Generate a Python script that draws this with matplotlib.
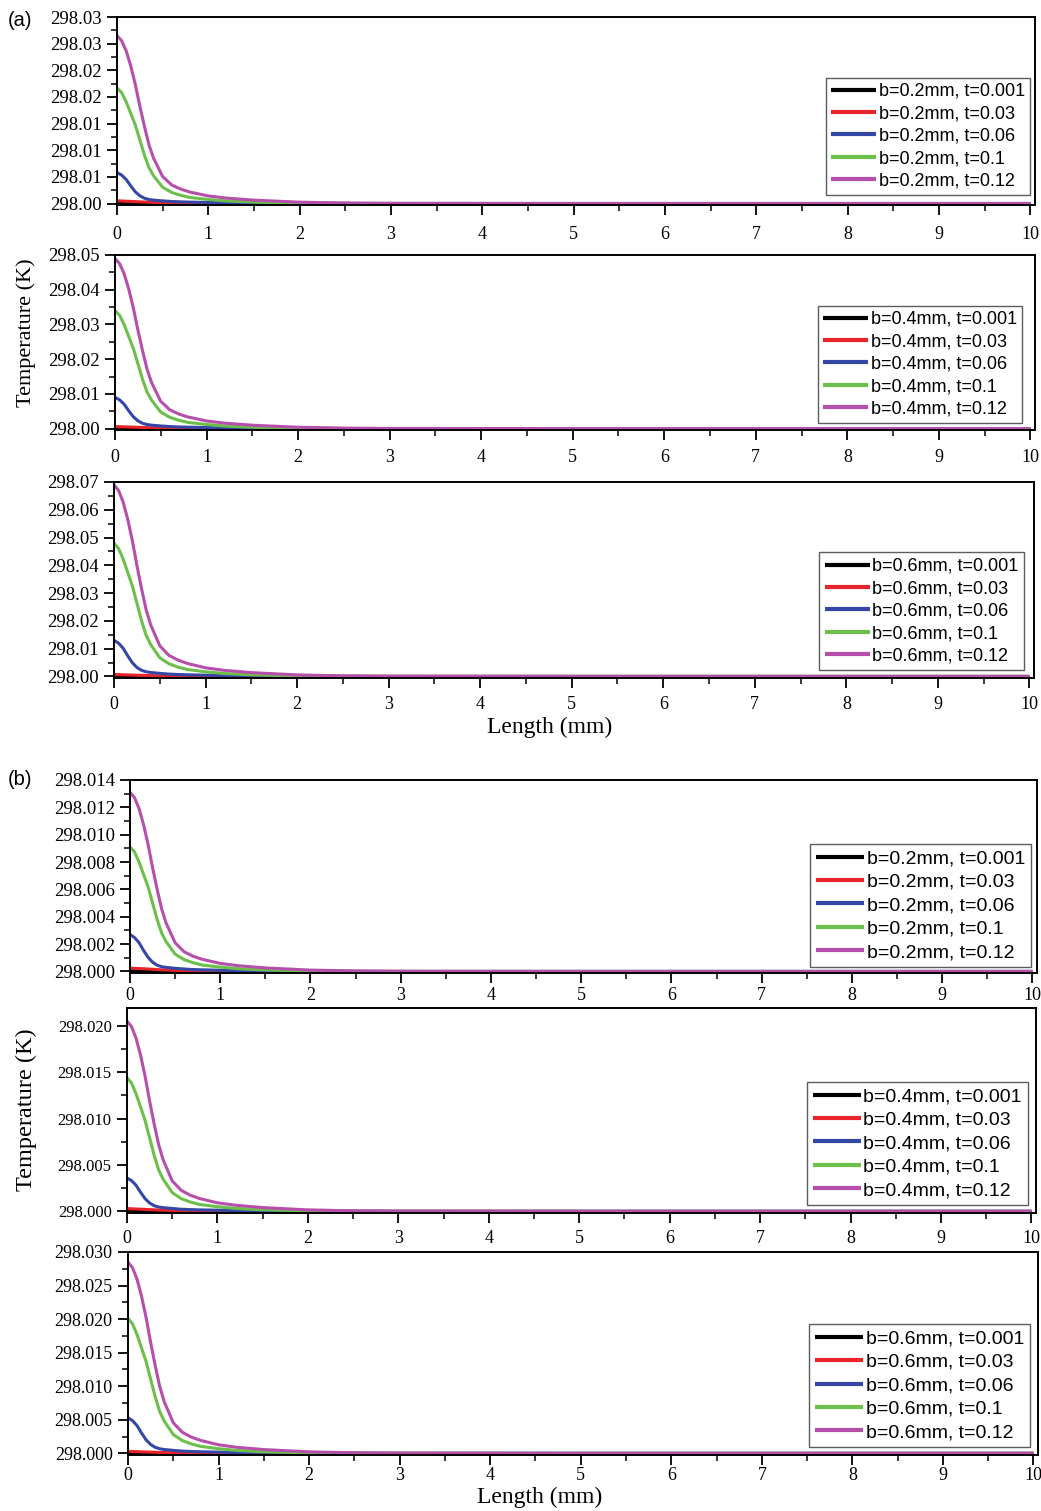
import matplotlib
matplotlib.use("Agg")
import matplotlib.pyplot as plt
from matplotlib.ticker import MultipleLocator, FixedLocator, FixedFormatter
import numpy as np

# length along the sample (mm)
length = [0, 0.05, 0.1, 0.15, 0.2, 0.25, 0.3, 0.35, 0.4, 0.5, 0.6, 0.7,
          0.8, 1.0, 1.2, 1.5, 2.0, 2.5, 3.0, 5.0, 10.0]

T0 = 298.0
times = ["0.001", "0.03", "0.06", "0.1", "0.12"]

# temperature rise above 298 K, one list per time step
t0001 = [0.00005, 0.00004, 0.00003, 0.00002, 0.00001, 0, 0, 0, 0, 0, 0, 0,
         0, 0, 0, 0, 0, 0, 0, 0, 0]

# (a) panel 1, b = 0.2 mm
a1_t003 = [0.00050, 0.00047, 0.00043, 0.00039, 0.00035, 0.00031, 0.00028, 0.00024, 0.00021, 0.00016, 0.00012,
           0.00009, 0.00007, 0.00004, 0.00002, 0.00001, 0, 0, 0, 0, 0]
a1_t006 = [0.00580, 0.00534, 0.00452, 0.00331, 0.00220, 0.00145, 0.00099, 0.00075, 0.00064, 0.00049, 0.00038,
           0.00031, 0.00026, 0.00020, 0.00013, 0.00007, 0.00002, 0.00001, 0, 0, 0]
a1_t01 = [0.02170, 0.02083, 0.01910, 0.01693, 0.01476, 0.01194, 0.00911, 0.00673, 0.00521, 0.00304, 0.00206,
          0.00152, 0.00113, 0.00076, 0.00048, 0.00026, 0.00009, 0.00002, 0, 0, 0]
a1_t012 = [0.03150, 0.03056, 0.02867, 0.02583, 0.02237, 0.01827, 0.01449, 0.01103, 0.00851, 0.00504, 0.00347,
           0.00268, 0.00214, 0.00142, 0.00101, 0.00063, 0.00025, 0.00009, 0.00003, 0, 0]

# (a) panel 2, b = 0.4 mm
a2_t003 = [0.00060, 0.00056, 0.00051, 0.00047, 0.00042, 0.00037, 0.00033, 0.00029, 0.00025, 0.00019, 0.00014,
           0.00011, 0.00008, 0.00004, 0.00002, 0.00001, 0, 0, 0, 0, 0]
a2_t006 = [0.00900, 0.00828, 0.00702, 0.00513, 0.00342, 0.00225, 0.00153, 0.00117, 0.00099, 0.00077, 0.00059,
           0.00048, 0.00041, 0.00032, 0.00020, 0.00011, 0.00004, 0.00001, 0, 0, 0]
a2_t01 = [0.03400, 0.03264, 0.02992, 0.02652, 0.02312, 0.01870, 0.01428, 0.01054, 0.00816, 0.00476, 0.00323,
          0.00238, 0.00177, 0.00119, 0.00075, 0.00041, 0.00014, 0.00003, 0, 0, 0]
a2_t012 = [0.04900, 0.04753, 0.04459, 0.04018, 0.03479, 0.02842, 0.02254, 0.01715, 0.01323, 0.00784, 0.00539,
           0.00417, 0.00333, 0.00221, 0.00157, 0.00098, 0.00039, 0.00015, 0.00005, 0, 0]

# (a) panel 3, b = 0.6 mm
a3_t003 = [0.00070, 0.00065, 0.00060, 0.00055, 0.00049, 0.00043, 0.00039, 0.00034, 0.00029, 0.00022, 0.00017,
           0.00013, 0.00009, 0.00005, 0.00003, 0.00001, 0, 0, 0, 0, 0]
a3_t006 = [0.01300, 0.01196, 0.01014, 0.00741, 0.00494, 0.00325, 0.00221, 0.00169, 0.00143, 0.00111, 0.00085,
           0.00069, 0.00059, 0.00046, 0.00029, 0.00016, 0.00005, 0.00001, 0, 0, 0]
a3_t01 = [0.04800, 0.04608, 0.04224, 0.03744, 0.03264, 0.02640, 0.02016, 0.01488, 0.01152, 0.00672, 0.00456,
          0.00336, 0.00250, 0.00168, 0.00106, 0.00058, 0.00019, 0.00005, 0, 0, 0]
a3_t012 = [0.06900, 0.06693, 0.06279, 0.05658, 0.04899, 0.04002, 0.03174, 0.02415, 0.01863, 0.01104, 0.00759,
           0.00587, 0.00469, 0.00311, 0.00221, 0.00138, 0.00055, 0.00021, 0.00007, 0, 0]

# (b) panel 1, b = 0.2 mm
b1_t003 = [0.00025, 0.00023, 0.00021, 0.00020, 0.00018, 0.00016, 0.00014, 0.00012, 0.00011, 0.00008, 0.00006,
           0.00005, 0.00003, 0.00002, 0.00001, 0, 0, 0, 0, 0, 0]
b1_t006 = [0.00270, 0.00248, 0.00211, 0.00154, 0.00103, 0.00068, 0.00046, 0.00035, 0.00030, 0.00023, 0.00018,
           0.00014, 0.00012, 0.00009, 0.00006, 0.00003, 0.00001, 0, 0, 0, 0]
b1_t01 = [0.00910, 0.00874, 0.00801, 0.00710, 0.00619, 0.00501, 0.00382, 0.00282, 0.00218, 0.00127, 0.00086,
          0.00064, 0.00047, 0.00032, 0.00020, 0.00011, 0.00004, 0.00001, 0, 0, 0]
b1_t012 = [0.01310, 0.01271, 0.01192, 0.01074, 0.00930, 0.00760, 0.00603, 0.00459, 0.00354, 0.00210, 0.00144,
           0.00111, 0.00089, 0.00059, 0.00042, 0.00026, 0.00010, 0.00004, 0.00001, 0, 0]

# (b) panel 2, b = 0.4 mm
b2_t003 = [0.00030, 0.00028, 0.00026, 0.00023, 0.00021, 0.00019, 0.00017, 0.00014, 0.00013, 0.00010, 0.00007,
           0.00005, 0.00004, 0.00002, 0.00001, 0, 0, 0, 0, 0, 0]
b2_t006 = [0.00360, 0.00331, 0.00281, 0.00205, 0.00137, 0.00090, 0.00061, 0.00047, 0.00040, 0.00031, 0.00023,
           0.00019, 0.00016, 0.00013, 0.00008, 0.00004, 0.00001, 0, 0, 0, 0]
b2_t01 = [0.01440, 0.01382, 0.01267, 0.01123, 0.00979, 0.00792, 0.00605, 0.00446, 0.00346, 0.00202, 0.00137,
          0.00101, 0.00075, 0.00050, 0.00032, 0.00017, 0.00006, 0.00001, 0, 0, 0]
b2_t012 = [0.02050, 0.01989, 0.01866, 0.01681, 0.01456, 0.01189, 0.00943, 0.00718, 0.00554, 0.00328, 0.00226,
           0.00174, 0.00139, 0.00092, 0.00066, 0.00041, 0.00016, 0.00006, 0.00002, 0, 0]

# (b) panel 3, b = 0.6 mm
b3_t003 = [0.00030, 0.00028, 0.00026, 0.00023, 0.00021, 0.00019, 0.00017, 0.00014, 0.00013, 0.00010, 0.00007,
           0.00005, 0.00004, 0.00002, 0.00001, 0, 0, 0, 0, 0, 0]
b3_t006 = [0.00530, 0.00488, 0.00413, 0.00302, 0.00201, 0.00133, 0.00090, 0.00069, 0.00058, 0.00045, 0.00034,
           0.00028, 0.00024, 0.00019, 0.00012, 0.00006, 0.00002, 0.00001, 0, 0, 0]
b3_t01 = [0.02010, 0.01930, 0.01769, 0.01568, 0.01367, 0.01106, 0.00844, 0.00623, 0.00482, 0.00281, 0.00191,
          0.00141, 0.00105, 0.00070, 0.00044, 0.00024, 0.00008, 0.00002, 0, 0, 0]
b3_t012 = [0.02850, 0.02765, 0.02594, 0.02337, 0.02024, 0.01653, 0.01311, 0.00998, 0.00770, 0.00456, 0.00314,
           0.00242, 0.00194, 0.00128, 0.00091, 0.00057, 0.00023, 0.00009, 0.00003, 0, 0]

# y tick labels as printed on the original
a1_ylabels = ["298.00", "298.01", "298.01", "298.01", "298.02", "298.02", "298.03", "298.03"]
a2_ylabels = ["298.00", "298.01", "298.02", "298.03", "298.04", "298.05"]
a3_ylabels = ["298.00", "298.01", "298.02", "298.03", "298.04", "298.05", "298.06", "298.07"]
b1_ylabels = ["298.000", "298.002", "298.004", "298.006", "298.008", "298.010", "298.012", "298.014"]
b2_ylabels = ["298.000", "298.005", "298.010", "298.015", "298.020"]
b3_ylabels = ["298.000", "298.005", "298.010", "298.015", "298.020", "298.025", "298.030"]

colors = ["#000000", "#e8232a", "#3447a6", "#6cc04a", "#b64fab"]
SERIF = "Liberation Serif"
SANS = "Liberation Sans"

W, H = 1041, 1511
fig = plt.figure(figsize=(W / 100, H / 100), dpi=100)


def rect(left, right, top, bottom):
    return [left / W, 1 - bottom / H, (right - left) / W, (bottom - top) / H]


panels = [
    # series, width, box (px), ymax, ystep, ylabels, ytick size, x pad, legend anchor, legend size
    ([t0001, a1_t003, a1_t006, a1_t01, a1_t012], "0.2", (117, 1035, 17, 205), 0.035, 0.005,
     a1_ylabels, 13.5, 8, (0.9946, 0.053), 13),
    ([t0001, a2_t003, a2_t006, a2_t01, a2_t012], "0.4", (115, 1035, 255, 430), 0.05, 0.01,
     a2_ylabels, 13.5, 7, (0.986, 0.04), 13),
    ([t0001, a3_t003, a3_t006, a3_t01, a3_t012], "0.6", (114, 1034, 482, 678), 0.07, 0.01,
     a3_ylabels, 13.5, 6, (0.989, 0.041), 13),
    ([t0001, b1_t003, b1_t006, b1_t01, b1_t012], "0.2", (130, 1037, 780, 973), 0.014, 0.002,
     b1_ylabels, 13.5, 3, (0.9934, 0.031), 14),
    ([t0001, b2_t003, b2_t006, b2_t01, b2_t012], "0.4", (127, 1036, 1008, 1213), 0.0219, 0.005,
     b2_ylabels, 12, 5, (0.991, 0.039), 14),
    ([t0001, b3_t003, b3_t006, b3_t01, b3_t012], "0.6", (128, 1038, 1252, 1455), 0.030, 0.005,
     b3_ylabels, 13, 2, (0.991, 0.039), 14),
]

x = np.array(length)
for series, bw, box, ymax, ystep, ylabels, ysize, xpad, anchor, lsize in panels:
    ax = fig.add_axes(rect(*box))
    for vals, t, c in zip(series, times, colors):
        ax.plot(x, T0 + np.array(vals), color=c, lw=2.2,
                label="b=%smm, t=%s" % (bw, t), solid_capstyle="butt")
    ax.set_xlim(0, 10.05)
    ax.set_ylim(T0 - ymax * 0.008, T0 + ymax)
    yt = [T0 + ystep * i for i in range(len(ylabels))]
    ax.yaxis.set_major_locator(FixedLocator(yt))
    ax.yaxis.set_major_formatter(FixedFormatter(ylabels))
    ax.yaxis.set_minor_locator(FixedLocator([v + ystep / 2 for v in yt]))
    ax.xaxis.set_major_locator(MultipleLocator(1))
    ax.xaxis.set_minor_locator(MultipleLocator(0.5))
    ax.tick_params(which="major", direction="out", length=7, width=1.3,
                   top=False, right=False)
    ax.tick_params(which="minor", direction="out", length=4, width=1.1,
                   top=False, right=False)
    ax.tick_params(axis="y", labelsize=ysize, pad=4)
    ax.tick_params(axis="x", labelsize=13, pad=xpad)
    for lab in ax.get_xticklabels() + ax.get_yticklabels():
        lab.set_family(SERIF)
    for sp in ax.spines.values():
        sp.set_linewidth(1.4)
    leg = ax.legend(loc="lower right", bbox_to_anchor=anchor, borderaxespad=0,
                    prop={"family": SANS, "size": lsize}, frameon=True, fancybox=False,
                    handlelength=2.5, handletextpad=0.12, labelspacing=0.3,
                    borderpad=0.3)
    leg.get_frame().set_edgecolor("#333333")
    leg.get_frame().set_linewidth(1.0)
    for ln in leg.get_lines():
        ln.set_linewidth(3)

fig.text(8 / W, 1 - 20 / H, "(a)", family=SANS, fontsize=14.5, va="center", ha="left")
fig.text(8 / W, 1 - 780 / H, "(b)", family=SANS, fontsize=14.5, va="center", ha="left")
fig.text(26 / W, 1 - 333 / H, "Temperature (K)", family=SERIF, fontsize=16,
         rotation=90, va="center", ha="center")
fig.text(26 / W, 1 - 1110 / H, "Temperature (K)", family=SERIF, fontsize=17.5,
         rotation=90, va="center", ha="center")
fig.text(550 / W, 1 - 727 / H, "Length (mm)", family=SERIF, fontsize=17,
         va="center", ha="center")
fig.text(540 / W, 1 - 1497 / H, "Length (mm)", family=SERIF, fontsize=17,
         va="center", ha="center")

fig.savefig("out.png", dpi=100)
